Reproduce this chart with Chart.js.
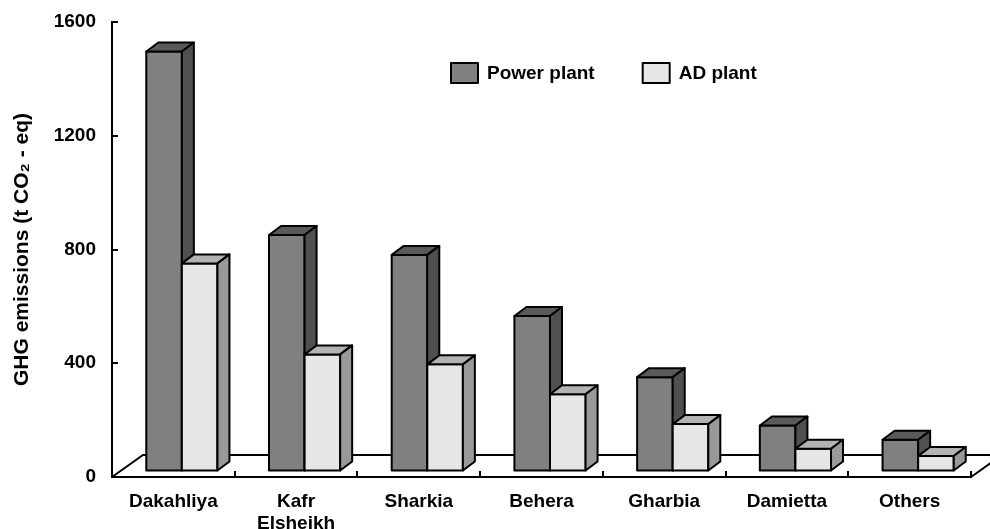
<!DOCTYPE html>
<html lang="en">
  <head>
    <meta charset="UTF-8" />
    <title>GHG emissions</title>
    <style>
      body {
        margin: 0;
        background: #fff;
      }
      canvas {
        display: block;
      }
    </style>
  </head>
  <body>
    <canvas id="ghgChart" width="990" height="529"></canvas>
    <script src="https://cdn.jsdelivr.net/npm/chart.js"></script>
    <script>
      const categories = ["Dakahliya", ["Kafr", "Elsheikh"], "Sharkia", "Behera", "Gharbia", "Damietta", "Others"];
      const powerPlant = [1475, 830, 760, 545, 330, 160, 110];
      const adPlant = [730, 410, 375, 270, 165, 78, 53];
      const yTicks = [0, 400, 800, 1200, 1600];

      const FONT = "'Liberation Sans', Arial, sans-serif";
      const faces = {
        power: { front: "#808080", top: "#5a5a5a", side: "#505050" },
        ad: { front: "#e6e6e6", top: "#b3b3b3", side: "#999999" },
      };
      // fake 3d: floor depth, where the bars sit in it, and bar depth (px)
      const floorDepth = { x: 31, y: -22 };
      const barShift = { x: 8.5, y: -6 };
      const barDepth = { x: 12, y: -9 };

      function poly(ctx, pts, fill) {
        ctx.beginPath();
        ctx.moveTo(pts[0][0], pts[0][1]);
        for (let i = 1; i < pts.length; i++) ctx.lineTo(pts[i][0], pts[i][1]);
        ctx.closePath();
        ctx.fillStyle = fill;
        ctx.fill();
        ctx.stroke();
      }

      function drawBox(ctx, bar, c) {
        const x0 = bar.x - bar.width / 2 + barShift.x;
        const x1 = bar.x + bar.width / 2 + barShift.x;
        const yt = bar.y + barShift.y;
        const yb = bar.base + barShift.y;
        const dx = barDepth.x, dy = barDepth.y;
        poly(ctx, [[x0, yt], [x1, yt], [x1, yb], [x0, yb]], c.front);
        poly(ctx, [[x0, yt], [x0 + dx, yt + dy], [x1 + dx, yt + dy], [x1, yt]], c.top);
        poly(ctx, [[x1, yt], [x1 + dx, yt + dy], [x1 + dx, yb + dy], [x1, yb]], c.side);
      }

      const box3d = {
        id: "box3d",
        beforeDatasetsDraw(chart) {
          const { ctx, chartArea: a } = chart;
          const xs = chart.scales.x, ys = chart.scales.y;
          ctx.save();
          ctx.strokeStyle = "#000";
          ctx.lineWidth = 2;
          // floor
          ctx.beginPath();
          ctx.moveTo(a.left, a.bottom);
          ctx.lineTo(a.left + floorDepth.x, a.bottom + floorDepth.y);
          ctx.lineTo(a.right + floorDepth.x, a.bottom + floorDepth.y);
          ctx.lineTo(a.right, a.bottom);
          ctx.stroke();
          // category ticks, pointing inward
          ctx.beginPath();
          for (let i = 1; i <= chart.data.labels.length; i++) {
            const px = Math.round(xs.getPixelForValue(i - 0.5));
            ctx.moveTo(px, a.bottom);
            ctx.lineTo(px, a.bottom - 6);
          }
          // value ticks
          ys.ticks.forEach((t) => {
            if (t.value === 0) return;
            const py = Math.round(ys.getPixelForValue(t.value));
            ctx.moveTo(a.left, py);
            ctx.lineTo(a.left + 6, py);
          });
          ctx.stroke();
          ctx.restore();
        },
        afterDatasetsDraw(chart) {
          const { ctx } = chart;
          ctx.save();
          ctx.strokeStyle = "#000";
          ctx.lineWidth = 2;
          ctx.lineJoin = "round";
          for (let i = 0; i < chart.data.labels.length; i++) {
            chart.data.datasets.forEach((ds, d) => {
              drawBox(ctx, chart.getDatasetMeta(d).data[i], ds.faces);
            });
          }
          // legend inside the plot
          ctx.font = "bold 19px " + FONT;
          ctx.textBaseline = "middle";
          ctx.fillStyle = "#000";
          let lx = 451;
          const ly = 73;
          chart.data.datasets.forEach((ds) => {
            ctx.fillStyle = ds.faces.front;
            ctx.fillRect(lx, ly - 10, 27, 20);
            ctx.strokeRect(lx, ly - 10, 27, 20);
            ctx.fillStyle = "#000";
            ctx.fillText(ds.label, lx + 36, ly + 1);
            lx += 36 + ctx.measureText(ds.label).width + 48;
          });
          ctx.restore();
        },
      };

      const ctx = document.getElementById("ghgChart").getContext("2d");
      new Chart(ctx, {
        type: "bar",
        data: {
          labels: categories,
          datasets: [
            {
              label: "Power plant",
              data: powerPlant,
              faces: faces.power,
              backgroundColor: "rgba(0,0,0,0)",
              borderWidth: 0,
            },
            {
              label: "AD plant",
              data: adPlant,
              faces: faces.ad,
              backgroundColor: "rgba(0,0,0,0)",
              borderWidth: 0,
            },
          ],
        },
        options: {
          responsive: false,
          animation: false,
          events: [],
          layout: { padding: { top: 22, right: 19, left: 0, bottom: 0 } },
          datasets: { bar: { categoryPercentage: 0.58, barPercentage: 1.0 } },
          plugins: { legend: { display: false }, tooltip: { enabled: false } },
          scales: {
            x: {
              grid: { display: false },
              border: { display: true, color: "#000", width: 2 },
              ticks: {
                color: "#000",
                padding: 6,
                maxRotation: 0,
                autoSkip: false,
                font: { family: FONT, size: 19, weight: "bold", lineHeight: 1.15 },
              },
              afterFit(scale) {
                scale.height = 52;
              },
            },
            y: {
              min: 0,
              max: 1600,
              afterBuildTicks(scale) {
                scale.ticks = yTicks.map((v) => ({ value: v }));
              },
              // invisible outer ticks only space the labels off the axis
              grid: {
                display: true,
                drawOnChartArea: false,
                drawTicks: true,
                tickLength: 12,
                tickColor: "rgba(0,0,0,0)",
              },
              border: { display: true, color: "#000", width: 2 },
              ticks: {
                color: "#000",
                padding: 4,
                callback: (v) => String(v),
                font: { family: FONT, size: 19, weight: "bold" },
              },
              title: {
                display: true,
                text: "GHG emissions (t CO\u2082 - eq)",
                color: "#000",
                padding: { top: 10, bottom: 0 },
                font: { family: FONT, size: 21, weight: "bold" },
              },
              afterFit(scale) {
                scale.width = 112;
              },
            },
          },
        },
        plugins: [box3d],
      });
    </script>
  </body>
</html>
